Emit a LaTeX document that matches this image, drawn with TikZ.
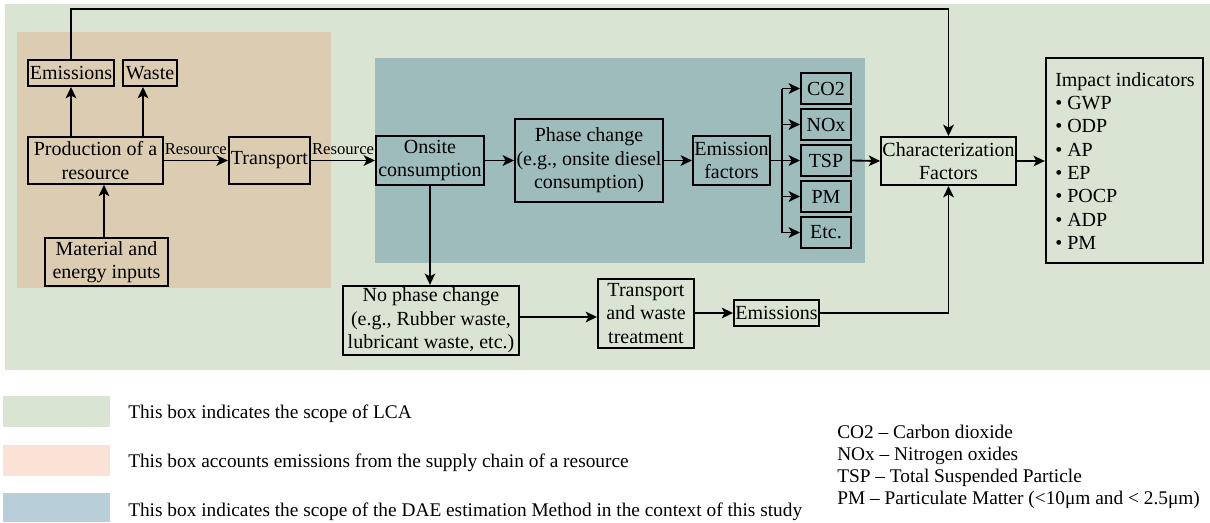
\documentclass[tikz,border=0pt]{standalone}
\usepackage{fontspec}
\setmainfont{Liberation Serif}
\usetikzlibrary{arrows.meta,calc}

\definecolor{lcagreen}{RGB}{217,228,211}
\definecolor{supplytan}{RGB}{220,205,178}
\definecolor{daeteal}{RGB}{157,188,187}
\definecolor{keysalmon}{RGB}{251,226,214}
\definecolor{keyblue}{RGB}{184,207,217}

\tikzset{
  box/.style={draw=black, line width=1.5pt, inner sep=1pt, align=center,
    font=\fontsize{15}{17.5}\selectfont},
  arr/.style={line width=1.4pt, -{Stealth[length=8.5pt,width=8pt,inset=2.2pt]}},
  link/.style={line width=1.4pt},
  lbl/.style={inner sep=1pt, font=\fontsize{12.5}{14}\selectfont},
  keytext/.style={anchor=base west, inner sep=0pt, font=\fontsize{14.5}{17.5}\selectfont},
}

\begin{document}
\begin{tikzpicture}[x=0.75pt,y=-0.75pt]
\useasboundingbox (0,0) rectangle (1210,522);

% scope regions
\fill[lcagreen] (5,4) rectangle (1210,370);
\fill[supplytan] (17,32) rectangle (331,288);
\fill[daeteal] (375,58) rectangle (865,263);

% supply chain of a resource
\node[box, minimum width=64.5pt, minimum height=19.5pt] (em1) at (71,73) {Emissions};
\node[box, minimum width=40.5pt, minimum height=19.5pt] (waste) at (150,73) {Waste};
\node[box, minimum width=101pt, minimum height=35pt] (prod) at (95.5,160.5) {Production of a\\resource};
\node[box, minimum width=92pt, minimum height=36pt] (mat) at (106.5,262) {Material and\\energy inputs};
\node[box, minimum width=61pt, minimum height=35pt] (transp) at (269.5,160.5) {Transport};

% onsite activities
\node[box, minimum width=81pt, minimum height=37pt] (onsite) at (430,160.5) {Onsite\\consumption};
\node[box, minimum width=111pt, minimum height=62pt] (phase) at (589,160.5) {Phase change\\(e.g., onsite diesel\\consumption)};
\node[box, minimum width=56pt, minimum height=37pt] (ef) at (731.5,160.5) {Emission\\factors};
\foreach \n/\t/\y in {co/CO2/88.5, nox/NOx/124.5, tsp/TSP/160.5, pm/PM/196.5, etc/Etc./232.5}
  \node[box, minimum width=37.5pt, minimum height=23pt] (\n) at (826,\y) {\t};

% characterization and indicators
\node[box, minimum width=101pt, minimum height=36pt] (char) at (948.5,161) {Characterization\\Factors};
\node[box, minimum width=118pt, minimum height=154pt] (impact) at (1124.5,160.5) {};
\node[anchor=north west, inner sep=0pt, align=left,
  font=\fontsize{15}{17.5}\selectfont] (impacttext) at (1055,72)
  {Impact indicators\\• GWP\\• ODP\\• AP\\• EP\\• POCP\\• ADP\\• PM};

% no phase change branch
\node[box, minimum width=132pt, minimum height=52pt] (nophase) at (431,320.5) {No phase change\\(e.g., Rubber waste,\\lubricant waste, etc.)};
\node[box, minimum width=72pt, minimum height=52pt] (tw) at (646,313.5) {Transport\\and waste\\treatment};
\node[box, minimum width=62pt, minimum height=19.5pt] (em2) at (776.5,313) {Emissions};

% connectors in the supply chain
\draw[arr] (prod.north -| em1.south) -- (em1.south);
\coordinate (wx) at (143,0);
\draw[arr] (prod.north -| wx) -- (waste.south -| wx);
\coordinate (mx) at (104,0);
\draw[arr] (mat.north -| mx) -- (prod.south -| mx);
\draw[arr] (prod.east) -- node[lbl, above, yshift=3pt] {Resource} (transp.west);
\draw[arr] (transp.east) -- node[lbl, above, yshift=3pt] {Resource} (onsite.west);

% upstream emissions fed to characterization
\coordinate (topy) at (0,9);
\draw[arr] (em1.north) -- (em1.north |- topy) -- (char.north |- topy) -- (char.north);

% onsite flows
\draw[arr] (onsite.east) -- (phase.west);
\draw[arr] (phase.east) -- (ef.west);
\coordinate (bx) at (782,160.5);
\draw[link] (ef.east) -- (bx);
\draw[link] (bx |- co.west) -- (bx |- etc.west);
\foreach \n in {co,nox,tsp,pm,etc}
  \draw[arr] (bx |- \n.west) -- (\n.west);
\draw[arr] (tsp.east) -- (char.west);
\draw[arr] (char.east) -- (char.east -| impact.west);

% waste flows
\draw[arr] (onsite.south) -- (nophase.north -| onsite.south);
\draw[arr] (nophase.east |- 0,317) -- (tw.west |- 0,317);
\draw[arr] (tw.east |- em2.west) -- (em2.west);
\draw[arr] (em2.east) -- (em2.east -| char.south) -- (char.south);

% key to the shaded regions
\fill[lcagreen] (3,396) rectangle (110,427);
\fill[keysalmon] (3,445) rectangle (110,476);
\fill[keyblue] (3,493) rectangle (110,522);
\node[keytext] (k1) at (128,418) {This box indicates the scope of LCA};
\node[keytext] (k2) at (128,467) {This box accounts emissions from the supply chain of a resource};
\node[keytext] (k3) at (128,516) {This box indicates the scope of the DAE estimation Method in the context of this study};

% abbreviations
\node[keytext] (a1) at (837,438) {CO2 – Carbon dioxide};
\node[keytext] (a2) at (837,460) {NOx – Nitrogen oxides};
\node[keytext] (a3) at (837,482) {TSP – Total Suspended Particle};
\node[keytext] (a4) at (837,504) {PM – Particulate Matter (<10μm and < 2.5μm)};
\end{tikzpicture}
\end{document}
